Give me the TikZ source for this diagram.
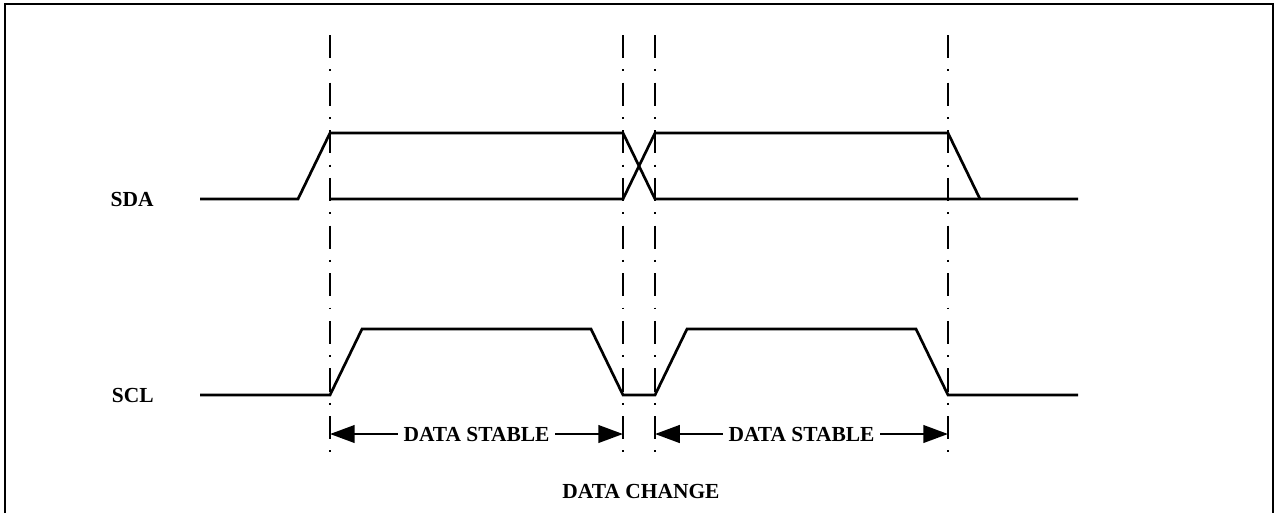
\documentclass[tikz,border=0pt]{standalone}
\usepackage{fontspec}
\setmainfont{Liberation Serif}
\usetikzlibrary{arrows.meta}

\tikzset{
  sig/.style={line width=1.3pt},
  guide/.style={line width=1.1pt,dash pattern=on 11.2pt off 5.5pt on 0.9pt off 5.5pt},
  lbl/.style={font=\bfseries\fontsize{10.4pt}{12pt}\selectfont,inner sep=0pt},
  span/.style={line width=1.3pt,{Triangle[length=12pt,width=8.5pt]}-{Triangle[length=12pt,width=8.5pt]}}
}

\begin{document}
\begin{tikzpicture}[x=0.485pt,y=-0.485pt]
\useasboundingbox (0,0) rectangle (1274,513);
\draw[line width=1.4pt] (5,513) -- (5,4) -- (1273,4) -- (1273,513);

% guide lines
\foreach \t in {330,623,655,948}
  \draw[guide] (\t,35) -- (\t,452);

% SDA
\node[lbl,anchor=east] (sda) at (154,199) {SDA};
\draw[sig] (200,199) -- (298,199) -- (330,133) -- (623,133) -- (655,199) -- (948,199) -- (980,199) -- (1078,199);
\draw[sig] (330,199) -- (623,199) -- (655,133) -- (948,133) -- (980,199);

% SCL
\node[lbl,anchor=east] (scl) at (154,395) {SCL};
\draw[sig] (200,395) -- (330,395) -- (362,329) -- (591,329) -- (623,395) -- (655,395)
  -- (687,329) -- (916,329) -- (948,395) -- (1078,395);

% data stable
\coordinate (a1) at (330,434);
\coordinate (b1) at (623,434);
\coordinate (a2) at (655,434);
\coordinate (b2) at (948,434);
\draw[span] (a1) -- (b1) node[midway,lbl,fill=white,inner xsep=2.5pt,inner ysep=1pt] (st1) {DATA STABLE};
\draw[span] (a2) -- (b2) node[midway,lbl,fill=white,inner xsep=2.5pt,inner ysep=1pt] (st2) {DATA STABLE};

\node[lbl] (chg) at (641,491) {DATA CHANGE};
\end{tikzpicture}
\end{document}
